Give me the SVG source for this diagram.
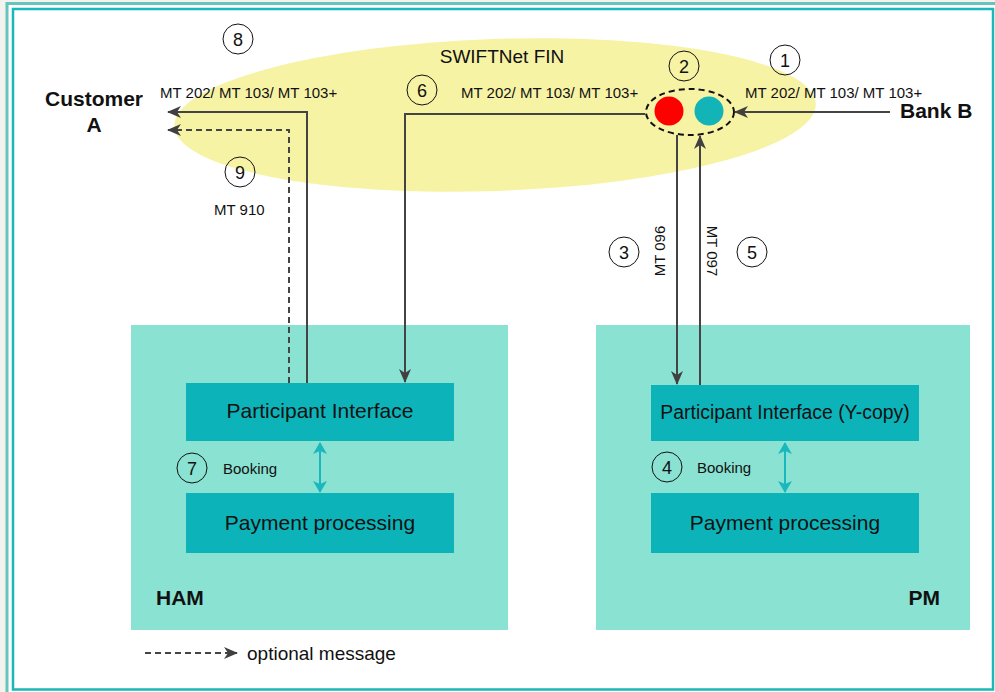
<svg xmlns="http://www.w3.org/2000/svg" width="995" height="692" viewBox="0 0 995 692">
<style>
text{font-family:"Liberation Sans",Arial,sans-serif;fill:#111}
.num{font-size:18px;text-anchor:middle}
.mt{font-size:15px}
.big{font-size:21px;font-weight:bold}
.box{font-size:21px;text-anchor:middle}
.c{fill:none;stroke:#111;stroke-width:1}
.ln{fill:none;stroke:#444;stroke-width:2}
.dash{fill:none;stroke:#444;stroke-width:2;stroke-dasharray:6 4}
.outer{fill:#8ae2d2}
.inner{fill:#0cb4b9}
.bk{fill:none;stroke:#1ab8be;stroke-width:2}
</style>
<defs>
<marker id="ah" viewBox="0 0 14 12" refX="13" refY="6" markerWidth="14" markerHeight="12" markerUnits="userSpaceOnUse" orient="auto">
<path d="M0,0 L14,6 L0,12 L4,6 Z" fill="#404040"/>
</marker>
<marker id="tah" viewBox="0 0 12 14" refX="11" refY="7" markerWidth="12" markerHeight="14" markerUnits="userSpaceOnUse" orient="auto-start-reverse">
<path d="M0,0 L12,7 L0,14 L3,7 Z" fill="#1ab8be"/>
</marker>
</defs>
<rect x="0" y="0" width="995" height="692" fill="#f2f2ee"/>
<rect x="7" y="3.5" width="995" height="700" fill="#ffffff" stroke="#66c4bc" stroke-width="3"/>
<rect x="13" y="9" width="980" height="680.5" fill="#ffffff" stroke="#1ab8b8" stroke-width="2.5"/>

<g id="swiftnet">
<ellipse cx="495" cy="115" rx="321" ry="76" transform="rotate(-2 495 115)" fill="#f7f3a5"/>
<text x="502" y="63" font-size="19" text-anchor="middle">SWIFTNet FIN</text>
</g>

<g id="ham">
<rect class="outer" x="131" y="325" width="377" height="305"/>
<text class="big" x="156" y="605">HAM</text>
</g>
<g id="ham-pi">
<rect class="inner" x="186" y="383" width="268" height="58"/>
<text class="box" x="320" y="418">Participant Interface</text>
</g>
<g id="ham-pp">
<rect class="inner" x="186" y="493" width="268" height="60"/>
<text class="box" x="320" y="530">Payment processing</text>
</g>

<g id="pm">
<rect class="outer" x="596" y="325" width="374" height="305"/>
<text class="big" x="940" y="605" text-anchor="end">PM</text>
</g>
<g id="pm-pi">
<rect class="inner" x="651" y="385" width="268" height="56"/>
<text class="box" x="785" y="419" style="font-size:19.4px">Participant Interface (Y-copy)</text>
</g>
<g id="pm-pp">
<rect class="inner" x="651" y="493" width="268" height="60"/>
<text class="box" x="785" y="530">Payment processing</text>
</g>

<g id="customer-a">
<text class="big" x="94" y="106" text-anchor="middle">Customer</text>
<text class="big" x="94" y="132" text-anchor="middle">A</text>
</g>
<g id="bank-b">
<text class="big" x="900" y="118">Bank B</text>
</g>

<g id="swift-hub">
<circle cx="669" cy="111" r="14.5" fill="#ff0000"/>
<circle cx="709" cy="111" r="14.5" fill="#12b4b8"/>
<ellipse cx="690" cy="112" rx="44" ry="23" fill="none" stroke="#111" stroke-width="2" stroke-dasharray="6 4"/>
</g>

<g id="connectors">
<line class="ln" x1="890" y1="112" x2="735" y2="112" marker-end="url(#ah)"/>
<polyline class="ln" points="645,114 405,114 405,382" marker-end="url(#ah)"/>
<polyline class="ln" points="307,383 307,112 168,112" marker-end="url(#ah)"/>
<polyline class="dash" points="289,383 289,130 168,130" marker-end="url(#ah)"/>
<line class="ln" x1="677" y1="135" x2="677" y2="384" marker-end="url(#ah)"/>
<line class="ln" x1="700" y1="385" x2="700" y2="136" marker-end="url(#ah)"/>
<line class="bk" x1="320" y1="443" x2="320" y2="492" marker-start="url(#tah)" marker-end="url(#tah)"/>
<line class="bk" x1="785" y1="443" x2="785" y2="492" marker-start="url(#tah)" marker-end="url(#tah)"/>
</g>

<g id="labels">
<text class="mt" x="160" y="98">MT 202/ MT 103/ MT 103+</text>
<text class="mt" x="461" y="98">MT 202/ MT 103/ MT 103+</text>
<text class="mt" x="745" y="98">MT 202/ MT 103/ MT 103+</text>
<text class="mt" x="214" y="215">MT 910</text>
<text class="mt" transform="translate(665,251) rotate(-90)" text-anchor="middle">MT 096</text>
<text class="mt" transform="translate(707,251) rotate(90)" text-anchor="middle">MT 097</text>
<text class="mt" x="223" y="474">Booking</text>
<text class="mt" x="697" y="473">Booking</text>
</g>

<g id="steps">
<circle class="c" cx="238" cy="39" r="15"/><text class="num" x="238" y="45.5">8</text>
<circle class="c" cx="785" cy="60" r="15"/><text class="num" x="785" y="66.5">1</text>
<circle class="c" cx="684" cy="66" r="15"/><text class="num" x="684" y="72.5">2</text>
<circle class="c" cx="422" cy="90" r="15"/><text class="num" x="422" y="96.5">6</text>
<circle class="c" cx="240" cy="172" r="15"/><text class="num" x="240" y="178.5">9</text>
<circle class="c" cx="624" cy="252" r="15"/><text class="num" x="624" y="258.5">3</text>
<circle class="c" cx="752" cy="252" r="15"/><text class="num" x="752" y="258.5">5</text>
<circle class="c" cx="192" cy="468" r="15"/><text class="num" x="192" y="474.5">7</text>
<circle class="c" cx="667" cy="467" r="15"/><text class="num" x="667" y="473.5">4</text>
</g>

<g id="legend">
<line class="dash" x1="145" y1="653" x2="237" y2="653" marker-end="url(#ah)"/>
<text x="247" y="660" font-size="19">optional message</text>
</g>
</svg>
